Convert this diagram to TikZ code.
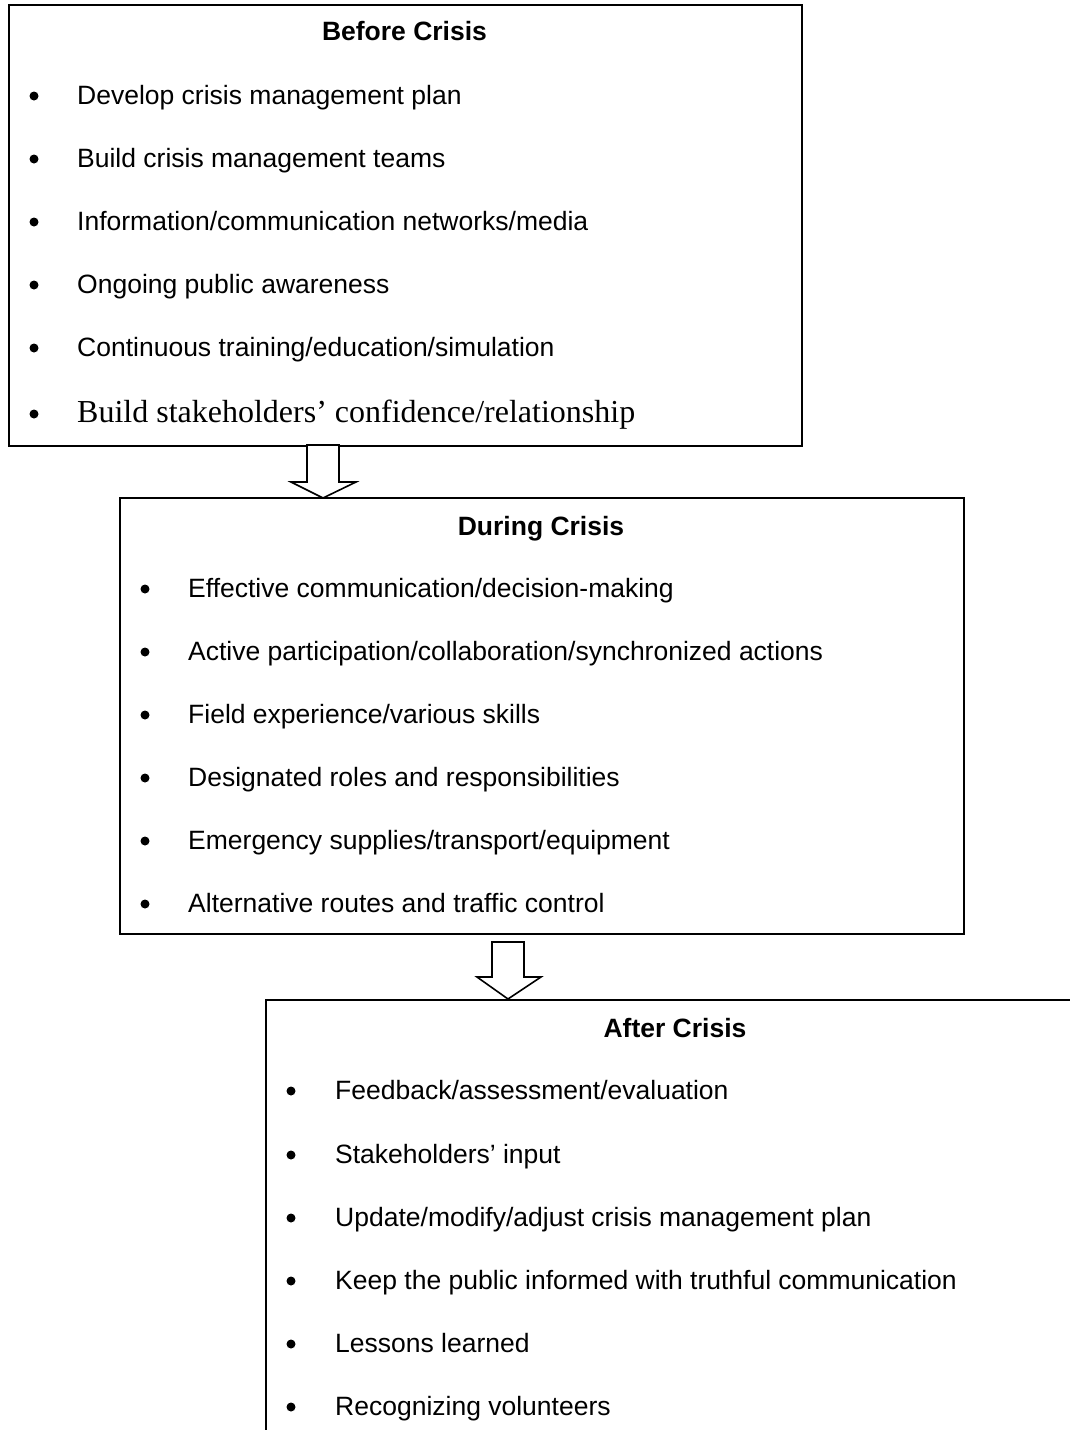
\documentclass[tikz,border=0pt]{standalone}
\usepackage{fontspec}
\setmainfont{Liberation Sans}
\newfontfamily\timesfont{Liberation Serif}
\begin{document}
\begin{tikzpicture}[x=1pt,y=-1pt,
  phasebox/.style={draw, line width=1.6pt, anchor=north west, inner sep=0pt},
  itemtext/.style={anchor=base west, inner sep=0pt, font=\fontsize{26.5}{30}\selectfont},
  headtext/.style={anchor=base, inner sep=0pt, font=\fontsize{26.5}{30}\selectfont\bfseries},
  dot/.style={circle, fill, inner sep=0pt, minimum size=9pt},
  blockarrow/.style={draw, line width=1.6pt, line join=miter, fill=white}]
\useasboundingbox (0,0) rectangle (1070,1430);

% phase boxes
\node[phasebox, minimum width=793pt, minimum height=441pt] (before) at (8,4) {};
\node[phasebox, minimum width=844pt, minimum height=436pt] (during) at (119,497) {};
\node[phasebox, minimum width=900pt, minimum height=520pt] (after) at (265,999) {};

% headings
\node[headtext] (hb) at (404.5,40) {Before Crisis};
\node[headtext] (hd) at (541,535) {During Crisis};
\node[headtext] (ha) at (675,1037) {After Crisis};

% before crisis items
\foreach \y/\t [count=\i] in {104/Develop crisis management plan,
    167/Build crisis management teams,
    230/Information\slash communication networks\slash media,
    293/Ongoing public awareness,
    356/Continuous training\slash education\slash simulation}{
  \node[dot] (bd\i) at (34,\y-8) {};
  \node[itemtext] (bt\i) at (77,\y) {\t};
}
\node[dot] (bd6) at (34,414) {};
\node[itemtext, font=\timesfont\fontsize{32}{36}\selectfont] (bt6) at (77,422)
  {Build stakeholders’ confidence/relationship};

% during crisis items
\foreach \y/\t [count=\i] in {597/Effective communication\slash decision-making,
    660/Active participation\slash collaboration\slash synchronized actions,
    723/Field experience\slash various skills,
    786/Designated roles and responsibilities,
    849/Emergency supplies\slash transport\slash equipment,
    912/Alternative routes and traffic control}{
  \node[dot] (dd\i) at (145,\y-8) {};
  \node[itemtext] (dt\i) at (188,\y) {\t};
}

% after crisis items
\foreach \y/\t [count=\i] in {1099/Feedback\slash assessment\slash evaluation,
    1163/Stakeholders’ input,
    1226/Update\slash modify\slash adjust crisis management plan,
    1289/Keep the public informed with truthful communication,
    1352/Lessons learned,
    1415/Recognizing volunteers}{
  \node[dot] (ad\i) at (291,\y-8) {};
  \node[itemtext] (at\i) at (335,\y) {\t};
}

% block arrows between phases
\coordinate (a1) at (323,445);
\draw[blockarrow] (a1) ++(-16,0) -- ++(0,37) -- ++(-16,0) -- (323,498)
  -- ++(33,-16) -- ++(-17,0) -- ++(0,-37) -- cycle;
\coordinate (a2) at (508,942);
\draw[blockarrow] (a2) ++(-16,0) -- ++(0,35) -- ++(-15,0) -- (508,999)
  -- ++(33,-22) -- ++(-17,0) -- ++(0,-35) -- cycle;
\end{tikzpicture}
\end{document}
